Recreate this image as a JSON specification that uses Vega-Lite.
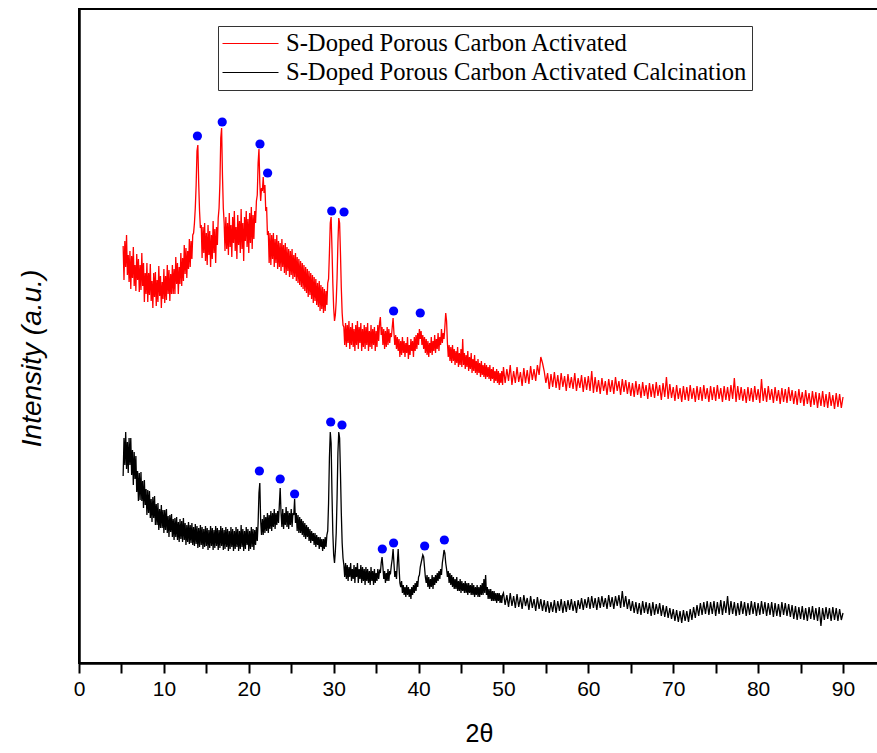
{
"$schema":"https://vega.github.io/schema/vega-lite/v6.json",
"width":800,"height":654,
"autosize":{"type":"none"},
"padding":{"left":79,"top":9,"right":0,"bottom":90},
"background":"#ffffff",
"config":{"view":{"stroke":"#000000","strokeWidth":2}},
"datasets":{
"xrd":[
{"x":5.2,"r":417,"b":187},{"x":5.3,"r":383,"b":225},{"x":5.4,"r":422,"b":198},{"x":5.5,"r":396,"b":231},{"x":5.6,"r":428,"b":194},{"x":5.7,"r":388,"b":221},{"x":5.8,"r":408,"b":190},{"x":5.9,"r":381,"b":225},{"x":6.0,"r":412,"b":198},{"x":6.1,"r":374,"b":225},{"x":6.2,"r":407,"b":188},{"x":6.3,"r":385,"b":213},{"x":6.4,"r":416,"b":178},{"x":6.5,"r":377,"b":211},{"x":6.6,"r":398,"b":184},{"x":6.7,"r":372,"b":207},{"x":6.8,"r":409,"b":171},{"x":6.9,"r":383,"b":192},{"x":7.0,"r":404,"b":162},{"x":7.1,"r":371,"b":190},{"x":7.2,"r":398,"b":163},{"x":7.3,"r":373,"b":191},{"x":7.4,"r":410,"b":162},{"x":7.5,"r":377,"b":182},{"x":7.6,"r":400,"b":155},{"x":7.7,"r":361,"b":183},{"x":7.8,"r":390,"b":158},{"x":7.9,"r":369,"b":174},
{"x":8.0,"r":400,"b":148},{"x":8.1,"r":361,"b":173},{"x":8.2,"r":390,"b":150},{"x":8.3,"r":368,"b":172},{"x":8.4,"r":399,"b":145},{"x":8.5,"r":362,"b":164},{"x":8.6,"r":382,"b":141},{"x":8.7,"r":355,"b":166},{"x":8.8,"r":390,"b":145},{"x":8.9,"r":366,"b":167},{"x":9.0,"r":391,"b":138},{"x":9.1,"r":357,"b":159},{"x":9.2,"r":383,"b":138},{"x":9.3,"r":361,"b":160},{"x":9.4,"r":397,"b":133},{"x":9.5,"r":367,"b":154},{"x":9.6,"r":387,"b":135},{"x":9.7,"r":355,"b":158},{"x":9.8,"r":381,"b":135},{"x":9.9,"r":364,"b":153},
{"x":10.0,"r":394,"b":130},{"x":10.1,"r":360,"b":153},{"x":10.2,"r":387,"b":133},{"x":10.3,"r":363,"b":154},{"x":10.4,"r":398,"b":130},{"x":10.5,"r":369,"b":147},{"x":10.6,"r":393,"b":126},{"x":10.7,"r":362,"b":148},{"x":10.8,"r":389,"b":131},{"x":10.9,"r":369,"b":149},{"x":11.0,"r":398,"b":126},{"x":11.1,"r":369,"b":144},{"x":11.2,"r":394,"b":123},{"x":11.3,"r":369,"b":145},{"x":11.4,"r":406,"b":126},{"x":11.5,"r":379,"b":146},{"x":11.6,"r":400,"b":123},{"x":11.7,"r":369,"b":141},{"x":11.8,"r":396,"b":121},{"x":11.9,"r":379,"b":144},
{"x":12.0,"r":410,"b":124},{"x":12.1,"r":377,"b":142},{"x":12.2,"r":405,"b":121},{"x":12.3,"r":382,"b":145},{"x":12.4,"r":418,"b":123},{"x":12.5,"r":389,"b":140},{"x":12.6,"r":415,"b":118},{"x":12.7,"r":385,"b":138},{"x":12.8,"r":412,"b":121},{"x":12.9,"r":394,"b":141},{"x":13.0,"r":424,"b":119},{"x":13.1,"r":396,"b":138},{"x":13.2,"r":422,"b":120},{"x":13.3,"r":404,"b":140},{"x":13.4,"r":428,"b":118},{"x":13.5,"r":430,"b":136},{"x":13.6,"r":440,"b":117},{"x":13.7,"r":455,"b":139},{"x":13.8,"r":478,"b":119},{"x":13.9,"r":512,"b":137},
{"x":14.0,"r":518,"b":115},{"x":14.1,"r":480,"b":135},{"x":14.2,"r":452,"b":116},{"x":14.3,"r":435,"b":138},{"x":14.4,"r":438,"b":118},{"x":14.5,"r":405,"b":136},{"x":14.6,"r":436,"b":114},{"x":14.7,"r":410,"b":134},{"x":14.8,"r":440,"b":116},{"x":14.9,"r":402,"b":137},{"x":15.0,"r":430,"b":117},{"x":15.1,"r":398,"b":135},{"x":15.2,"r":438,"b":113},{"x":15.3,"r":408,"b":133},{"x":15.4,"r":432,"b":115},{"x":15.5,"r":396,"b":137},{"x":15.6,"r":428,"b":117},{"x":15.7,"r":404,"b":135},{"x":15.8,"r":442,"b":113},{"x":15.9,"r":410,"b":133},
{"x":16.0,"r":434,"b":115},{"x":16.1,"r":400,"b":137},{"x":16.2,"r":436,"b":117},{"x":16.3,"r":418,"b":135},{"x":16.4,"r":445,"b":113},{"x":16.5,"r":455,"b":133},{"x":16.6,"r":480,"b":115},{"x":16.7,"r":525,"b":137},{"x":16.8,"r":535,"b":117},{"x":16.9,"r":488,"b":135},{"x":17.0,"r":455,"b":113},{"x":17.1,"r":440,"b":133},{"x":17.2,"r":412,"b":114},{"x":17.3,"r":446,"b":136},{"x":17.4,"r":414,"b":116},{"x":17.5,"r":440,"b":134},{"x":17.6,"r":408,"b":112},{"x":17.7,"r":450,"b":132},{"x":17.8,"r":416,"b":114},{"x":17.9,"r":438,"b":136},
{"x":18.0,"r":406,"b":116},{"x":18.1,"r":446,"b":134},{"x":18.2,"r":420,"b":112},{"x":18.3,"r":452,"b":132},{"x":18.4,"r":412,"b":114},{"x":18.5,"r":436,"b":136},{"x":18.6,"r":404,"b":116},{"x":18.7,"r":448,"b":134},{"x":18.8,"r":418,"b":112},{"x":18.9,"r":442,"b":132},{"x":19.0,"r":410,"b":114},{"x":19.1,"r":454,"b":138},{"x":19.2,"r":414,"b":116},{"x":19.3,"r":440,"b":134},{"x":19.4,"r":402,"b":112},{"x":19.5,"r":446,"b":132},{"x":19.6,"r":422,"b":114},{"x":19.7,"r":452,"b":136},{"x":19.8,"r":416,"b":118},{"x":19.9,"r":444,"b":134},
{"x":20.0,"r":410,"b":112},{"x":20.1,"r":450,"b":132},{"x":20.2,"r":420,"b":114},{"x":20.3,"r":456,"b":136},{"x":20.4,"r":414,"b":116},{"x":20.5,"r":448,"b":134},{"x":20.6,"r":424,"b":113},{"x":20.7,"r":452,"b":133},{"x":20.8,"r":440,"b":118},{"x":20.9,"r":462,"b":136},{"x":21.0,"r":468,"b":122},{"x":21.1,"r":500,"b":140},{"x":21.2,"r":514,"b":170},{"x":21.3,"r":480,"b":180},{"x":21.4,"r":462,"b":142},{"x":21.5,"r":475,"b":128},{"x":21.6,"r":472,"b":144},{"x":21.7,"r":486,"b":128},{"x":21.8,"r":470,"b":148},{"x":21.9,"r":478,"b":130},
{"x":22.0,"r":452,"b":146},{"x":22.1,"r":456,"b":132},{"x":22.2,"r":428,"b":150},{"x":22.3,"r":432,"b":130},{"x":22.4,"r":400,"b":148},{"x":22.5,"r":430,"b":134},{"x":22.6,"r":398,"b":152},{"x":22.7,"r":428,"b":132},{"x":22.8,"r":404,"b":150},{"x":22.9,"r":430,"b":136},{"x":23.0,"r":396,"b":154},{"x":23.1,"r":424,"b":134},{"x":23.2,"r":400,"b":150},{"x":23.3,"r":428,"b":138},{"x":23.4,"r":394,"b":152},{"x":23.5,"r":422,"b":140},{"x":23.6,"r":396,"b":158},{"x":23.7,"r":420,"b":175},{"x":23.8,"r":392,"b":150},{"x":23.9,"r":424,"b":136},
{"x":24.0,"r":396,"b":154},{"x":24.1,"r":418,"b":134},{"x":24.2,"r":390,"b":150},{"x":24.3,"r":420,"b":138},{"x":24.4,"r":388,"b":156},{"x":24.5,"r":416,"b":136},{"x":24.6,"r":392,"b":152},{"x":24.7,"r":414,"b":134},{"x":24.8,"r":386,"b":150},{"x":24.9,"r":412,"b":138},{"x":25.0,"r":388,"b":154},{"x":25.1,"r":414,"b":136},{"x":25.2,"r":384,"b":150},{"x":25.3,"r":408,"b":148},{"x":25.4,"r":386,"b":164},{"x":25.5,"r":410,"b":140},{"x":25.6,"r":382,"b":150},{"x":25.7,"r":406,"b":132},{"x":25.8,"r":380,"b":148},{"x":25.9,"r":404,"b":130},
{"x":26.0,"r":378,"b":146},{"x":26.1,"r":402,"b":130},{"x":26.2,"r":376,"b":144},{"x":26.3,"r":400,"b":128},{"x":26.4,"r":374,"b":142},{"x":26.5,"r":398,"b":126},{"x":26.6,"r":372,"b":140},{"x":26.7,"r":396,"b":124},{"x":26.8,"r":370,"b":138},{"x":26.9,"r":394,"b":126},{"x":27.0,"r":366,"b":136},{"x":27.1,"r":392,"b":122},{"x":27.2,"r":368,"b":134},{"x":27.3,"r":390,"b":120},{"x":27.4,"r":364,"b":132},{"x":27.5,"r":388,"b":122},{"x":27.6,"r":360,"b":130},{"x":27.7,"r":386,"b":118},{"x":27.8,"r":362,"b":130},{"x":27.9,"r":384,"b":116},
{"x":28.0,"r":358,"b":128},{"x":28.1,"r":380,"b":118},{"x":28.2,"r":356,"b":126},{"x":28.3,"r":382,"b":114},{"x":28.4,"r":352,"b":126},{"x":28.5,"r":378,"b":116},{"x":28.6,"r":354,"b":124},{"x":28.7,"r":376,"b":112},{"x":28.8,"r":350,"b":124},{"x":28.9,"r":374,"b":114},{"x":29.0,"r":352,"b":126},{"x":29.1,"r":372,"b":116},{"x":29.2,"r":358,"b":128},{"x":29.3,"r":380,"b":132},{"x":29.4,"r":384,"b":160},{"x":29.5,"r":410,"b":205},{"x":29.6,"r":440,"b":231},{"x":29.7,"r":446,"b":220},{"x":29.8,"r":415,"b":170},{"x":29.9,"r":380,"b":130},
{"x":30.0,"r":355,"b":108},{"x":30.1,"r":342,"b":100},{"x":30.2,"r":348,"b":112},{"x":30.3,"r":362,"b":130},{"x":30.4,"r":385,"b":165},{"x":30.5,"r":420,"b":210},{"x":30.6,"r":445,"b":231},{"x":30.7,"r":440,"b":225},{"x":30.8,"r":410,"b":190},{"x":30.9,"r":375,"b":150},{"x":31.0,"r":350,"b":120},{"x":31.1,"r":338,"b":105},{"x":31.2,"r":336,"b":98},{"x":31.3,"r":318,"b":86},{"x":31.4,"r":340,"b":100},{"x":31.5,"r":316,"b":84},{"x":31.6,"r":338,"b":98},{"x":31.7,"r":320,"b":82},{"x":31.8,"r":342,"b":96},{"x":31.9,"r":314,"b":86},
{"x":32.0,"r":336,"b":100},{"x":32.1,"r":318,"b":82},{"x":32.2,"r":340,"b":94},{"x":32.3,"r":316,"b":84},{"x":32.4,"r":334,"b":98},{"x":32.5,"r":312,"b":80},{"x":32.6,"r":338,"b":96},{"x":32.7,"r":318,"b":86},{"x":32.8,"r":342,"b":100},{"x":32.9,"r":314,"b":80},{"x":33.0,"r":336,"b":94},{"x":33.1,"r":320,"b":84},{"x":33.2,"r":340,"b":98},{"x":33.3,"r":312,"b":80},{"x":33.4,"r":334,"b":96},{"x":33.5,"r":316,"b":82},{"x":33.6,"r":338,"b":94},{"x":33.7,"r":314,"b":78},{"x":33.8,"r":336,"b":96},{"x":33.9,"r":318,"b":82},
{"x":34.0,"r":340,"b":94},{"x":34.1,"r":312,"b":80},{"x":34.2,"r":332,"b":92},{"x":34.3,"r":316,"b":78},{"x":34.4,"r":338,"b":96},{"x":34.5,"r":314,"b":82},{"x":34.6,"r":334,"b":92},{"x":34.7,"r":318,"b":78},{"x":34.8,"r":336,"b":94},{"x":34.9,"r":312,"b":80},{"x":35.0,"r":332,"b":90},{"x":35.1,"r":316,"b":82},{"x":35.2,"r":338,"b":94},{"x":35.3,"r":322,"b":84},{"x":35.4,"r":340,"b":92},{"x":35.5,"r":346,"b":90},{"x":35.6,"r":328,"b":100},{"x":35.7,"r":336,"b":106},{"x":35.8,"r":318,"b":96},{"x":35.9,"r":334,"b":84},
{"x":36.0,"r":314,"b":92},{"x":36.1,"r":332,"b":80},{"x":36.2,"r":316,"b":90},{"x":36.3,"r":336,"b":82},{"x":36.4,"r":318,"b":94},{"x":36.5,"r":334,"b":82},{"x":36.6,"r":320,"b":92},{"x":36.7,"r":330,"b":90},{"x":36.8,"r":326,"b":98},{"x":36.9,"r":336,"b":104},{"x":37.0,"r":345,"b":114},{"x":37.1,"r":330,"b":100},{"x":37.2,"r":318,"b":86},{"x":37.3,"r":328,"b":92},{"x":37.4,"r":314,"b":84},{"x":37.5,"r":326,"b":100},{"x":37.6,"r":312,"b":114},{"x":37.7,"r":324,"b":96},{"x":37.8,"r":306,"b":80},{"x":37.9,"r":322,"b":76},
{"x":38.0,"r":308,"b":82},{"x":38.1,"r":326,"b":70},{"x":38.2,"r":310,"b":78},{"x":38.3,"r":322,"b":68},{"x":38.4,"r":306,"b":76},{"x":38.5,"r":320,"b":66},{"x":38.6,"r":310,"b":78},{"x":38.7,"r":326,"b":68},{"x":38.8,"r":304,"b":76},{"x":38.9,"r":318,"b":66},{"x":39.0,"r":308,"b":74},{"x":39.1,"r":324,"b":64},{"x":39.2,"r":312,"b":76},{"x":39.3,"r":322,"b":68},{"x":39.4,"r":306,"b":78},{"x":39.5,"r":326,"b":70},{"x":39.6,"r":312,"b":80},{"x":39.7,"r":328,"b":72},{"x":39.8,"r":314,"b":82},{"x":39.9,"r":330,"b":76},
{"x":40.0,"r":318,"b":86},{"x":40.1,"r":334,"b":88},{"x":40.2,"r":324,"b":96},{"x":40.3,"r":332,"b":100},{"x":40.4,"r":318,"b":104},{"x":40.5,"r":328,"b":108},{"x":40.6,"r":314,"b":106},{"x":40.7,"r":326,"b":96},{"x":40.8,"r":310,"b":86},{"x":40.9,"r":324,"b":80},{"x":41.0,"r":308,"b":88},{"x":41.1,"r":322,"b":76},{"x":41.2,"r":306,"b":86},{"x":41.3,"r":320,"b":74},{"x":41.4,"r":310,"b":84},{"x":41.5,"r":326,"b":76},{"x":41.6,"r":308,"b":88},{"x":41.7,"r":322,"b":74},{"x":41.8,"r":312,"b":86},{"x":41.9,"r":328,"b":78},
{"x":42.0,"r":310,"b":88},{"x":42.1,"r":324,"b":80},{"x":42.2,"r":314,"b":90},{"x":42.3,"r":330,"b":82},{"x":42.4,"r":312,"b":92},{"x":42.5,"r":326,"b":84},{"x":42.6,"r":318,"b":94},{"x":42.7,"r":334,"b":88},{"x":42.8,"r":320,"b":100},{"x":42.9,"r":330,"b":106},{"x":43.0,"r":324,"b":113},{"x":43.1,"r":336,"b":110},{"x":43.2,"r":350,"b":100},{"x":43.3,"r":342,"b":94},{"x":43.4,"r":320,"b":86},{"x":43.5,"r":306,"b":92},{"x":43.6,"r":318,"b":80},{"x":43.7,"r":302,"b":90},{"x":43.8,"r":316,"b":78},{"x":43.9,"r":300,"b":88},
{"x":44.0,"r":318,"b":76},{"x":44.1,"r":302,"b":86},{"x":44.2,"r":314,"b":74},{"x":44.3,"r":298,"b":84},{"x":44.4,"r":312,"b":74},{"x":44.5,"r":300,"b":86},{"x":44.6,"r":316,"b":72},{"x":44.7,"r":296,"b":82},{"x":44.8,"r":310,"b":72},{"x":44.9,"r":298,"b":84},{"x":45.0,"r":314,"b":70},{"x":45.1,"r":296,"b":82},{"x":45.2,"r":324,"b":72},{"x":45.3,"r":298,"b":80},{"x":45.4,"r":310,"b":70},{"x":45.5,"r":294,"b":82},{"x":45.6,"r":308,"b":70},{"x":45.7,"r":296,"b":80},{"x":45.8,"r":312,"b":68},{"x":45.9,"r":292,"b":80},
{"x":46.0,"r":306,"b":70},{"x":46.1,"r":294,"b":78},{"x":46.2,"r":310,"b":68},{"x":46.3,"r":290,"b":80},{"x":46.4,"r":304,"b":68},{"x":46.5,"r":292,"b":78},{"x":46.6,"r":308,"b":66},{"x":46.7,"r":290,"b":76},{"x":46.8,"r":302,"b":68},{"x":46.9,"r":288,"b":78},{"x":47.0,"r":304,"b":66},{"x":47.1,"r":290,"b":76},{"x":47.2,"r":300,"b":66},{"x":47.3,"r":286,"b":78},{"x":47.4,"r":302,"b":68},{"x":47.5,"r":288,"b":80},{"x":47.6,"r":298,"b":68},{"x":47.7,"r":286,"b":84},{"x":47.8,"r":300,"b":70},{"x":47.9,"r":284,"b":88},
{"x":48.0,"r":298,"b":68},{"x":48.1,"r":286,"b":76},{"x":48.2,"r":296,"b":64},{"x":48.3,"r":284,"b":74},{"x":48.4,"r":298,"b":64},{"x":48.5,"r":282,"b":74},{"x":48.6,"r":294,"b":62},{"x":48.7,"r":284,"b":72},{"x":48.8,"r":296,"b":62},{"x":48.9,"r":280,"b":72},{"x":49.0,"r":292,"b":62},{"x":49.1,"r":282,"b":70},{"x":49.2,"r":294,"b":60},{"x":49.3,"r":280,"b":70},{"x":49.4,"r":292,"b":62},{"x":49.5,"r":278,"b":70},{"x":49.6,"r":290,"b":60},{"x":49.7,"r":280,"b":68},{"x":49.8,"r":292,"b":60},{"x":49.9,"r":278,"b":68},
{"x":50.0,"r":296,"b":70},{"x":50.2,"r":280,"b":58},{"x":50.4,"r":294,"b":68},{"x":50.6,"r":282,"b":56},{"x":50.8,"r":298,"b":70},{"x":51.0,"r":278,"b":57},{"x":51.2,"r":292,"b":67},{"x":51.4,"r":280,"b":55},{"x":51.6,"r":296,"b":69},{"x":51.8,"r":281,"b":56},{"x":52.0,"r":291,"b":66},{"x":52.2,"r":277,"b":54},{"x":52.4,"r":295,"b":68},{"x":52.6,"r":280,"b":57},{"x":52.8,"r":293,"b":65},{"x":53.0,"r":279,"b":53},{"x":53.2,"r":297,"b":67},{"x":53.4,"r":283,"b":55},{"x":53.6,"r":294,"b":64},{"x":53.8,"r":282,"b":52},
{"x":54.0,"r":298,"b":66},{"x":54.2,"r":288,"b":54},{"x":54.4,"r":306,"b":64},{"x":54.6,"r":300,"b":52},{"x":54.8,"r":292,"b":63},{"x":55.0,"r":280,"b":51},{"x":55.2,"r":290,"b":62},{"x":55.4,"r":274,"b":50},{"x":55.6,"r":289,"b":61},{"x":55.8,"r":276,"b":51},{"x":56.0,"r":291,"b":63},{"x":56.2,"r":275,"b":50},{"x":56.4,"r":288,"b":62},{"x":56.6,"r":273,"b":52},{"x":56.8,"r":290,"b":64},{"x":57.0,"r":276,"b":50},{"x":57.2,"r":287,"b":62},{"x":57.4,"r":272,"b":51},{"x":57.6,"r":289,"b":63},{"x":57.8,"r":275,"b":53},
{"x":58.0,"r":286,"b":64},{"x":58.2,"r":274,"b":52},{"x":58.4,"r":290,"b":62},{"x":58.6,"r":272,"b":50},{"x":58.8,"r":285,"b":63},{"x":59.0,"r":275,"b":54},{"x":59.2,"r":288,"b":65},{"x":59.4,"r":271,"b":53},{"x":59.6,"r":286,"b":64},{"x":59.8,"r":273,"b":55},{"x":60.0,"r":287,"b":66},{"x":60.2,"r":272,"b":54},{"x":60.4,"r":292,"b":67},{"x":60.6,"r":270,"b":55},{"x":60.8,"r":286,"b":65},{"x":61.0,"r":271,"b":53},{"x":61.2,"r":283,"b":66},{"x":61.4,"r":269,"b":55},{"x":61.6,"r":285,"b":67},{"x":61.8,"r":272,"b":56},
{"x":62.0,"r":282,"b":65},{"x":62.2,"r":268,"b":54},{"x":62.4,"r":284,"b":68},{"x":62.6,"r":271,"b":56},{"x":62.8,"r":283,"b":66},{"x":63.0,"r":269,"b":54},{"x":63.2,"r":286,"b":67},{"x":63.4,"r":272,"b":57},{"x":63.6,"r":282,"b":68},{"x":63.8,"r":268,"b":55},{"x":64.0,"r":284,"b":72},{"x":64.2,"r":271,"b":56},{"x":64.4,"r":283,"b":67},{"x":64.6,"r":269,"b":54},{"x":64.8,"r":281,"b":64},{"x":65.0,"r":267,"b":52},{"x":65.2,"r":280,"b":62},{"x":65.4,"r":266,"b":50},{"x":65.6,"r":282,"b":61},{"x":65.8,"r":268,"b":49},
{"x":66.0,"r":279,"b":60},{"x":66.2,"r":265,"b":48},{"x":66.4,"r":281,"b":62},{"x":66.6,"r":267,"b":50},{"x":66.8,"r":278,"b":61},{"x":67.0,"r":264,"b":49},{"x":67.2,"r":280,"b":60},{"x":67.4,"r":266,"b":47},{"x":67.6,"r":279,"b":61},{"x":67.8,"r":265,"b":48},{"x":68.0,"r":281,"b":59},{"x":68.2,"r":267,"b":49},{"x":68.4,"r":278,"b":60},{"x":68.6,"r":263,"b":47},{"x":68.8,"r":280,"b":58},{"x":69.0,"r":266,"b":46},{"x":69.2,"r":286,"b":57},{"x":69.4,"r":264,"b":45},{"x":69.6,"r":279,"b":55},{"x":69.8,"r":265,"b":44},
{"x":70.0,"r":276,"b":54},{"x":70.2,"r":262,"b":42},{"x":70.4,"r":278,"b":53},{"x":70.6,"r":264,"b":41},{"x":70.8,"r":275,"b":52},{"x":71.0,"r":261,"b":40},{"x":71.2,"r":277,"b":53},{"x":71.4,"r":263,"b":42},{"x":71.6,"r":276,"b":52},{"x":71.8,"r":262,"b":41},{"x":72.0,"r":278,"b":54},{"x":72.2,"r":264,"b":43},{"x":72.4,"r":275,"b":56},{"x":72.6,"r":261,"b":45},{"x":72.8,"r":277,"b":58},{"x":73.0,"r":263,"b":47},{"x":73.2,"r":276,"b":60},{"x":73.4,"r":262,"b":48},{"x":73.6,"r":278,"b":61},{"x":73.8,"r":264,"b":49},
{"x":74.0,"r":275,"b":62},{"x":74.2,"r":261,"b":48},{"x":74.4,"r":277,"b":61},{"x":74.6,"r":263,"b":49},{"x":74.8,"r":276,"b":62},{"x":75.0,"r":262,"b":47},{"x":75.2,"r":278,"b":61},{"x":75.4,"r":264,"b":49},{"x":75.6,"r":275,"b":63},{"x":75.8,"r":261,"b":48},{"x":76.0,"r":277,"b":62},{"x":76.2,"r":263,"b":50},{"x":76.4,"r":276,"b":67},{"x":76.6,"r":262,"b":48},{"x":76.8,"r":278,"b":62},{"x":77.0,"r":264,"b":49},{"x":77.2,"r":285,"b":61},{"x":77.4,"r":261,"b":47},{"x":77.6,"r":277,"b":60},{"x":77.8,"r":263,"b":48},
{"x":78.0,"r":276,"b":62},{"x":78.2,"r":262,"b":49},{"x":78.4,"r":274,"b":61},{"x":78.6,"r":260,"b":47},{"x":78.8,"r":276,"b":60},{"x":79.0,"r":262,"b":48},{"x":79.2,"r":275,"b":62},{"x":79.4,"r":261,"b":49},{"x":79.6,"r":277,"b":61},{"x":79.8,"r":263,"b":47},{"x":80.0,"r":274,"b":60},{"x":80.2,"r":260,"b":48},{"x":80.4,"r":284,"b":62},{"x":80.6,"r":262,"b":49},{"x":80.8,"r":275,"b":61},{"x":81.0,"r":261,"b":47},{"x":81.2,"r":277,"b":60},{"x":81.4,"r":263,"b":48},{"x":81.6,"r":274,"b":61},{"x":81.8,"r":260,"b":46},
{"x":82.0,"r":276,"b":60},{"x":82.2,"r":262,"b":47},{"x":82.4,"r":273,"b":59},{"x":82.6,"r":259,"b":46},{"x":82.8,"r":275,"b":61},{"x":83.0,"r":261,"b":48},{"x":83.2,"r":274,"b":60},{"x":83.4,"r":260,"b":47},{"x":83.6,"r":276,"b":59},{"x":83.8,"r":262,"b":46},{"x":84.0,"r":273,"b":58},{"x":84.2,"r":259,"b":44},{"x":84.4,"r":272,"b":57},{"x":84.6,"r":258,"b":43},{"x":84.8,"r":274,"b":56},{"x":85.0,"r":260,"b":44},{"x":85.2,"r":271,"b":57},{"x":85.4,"r":257,"b":43},{"x":85.6,"r":273,"b":55},{"x":85.8,"r":259,"b":42},
{"x":86.0,"r":270,"b":56},{"x":86.2,"r":256,"b":44},{"x":86.4,"r":272,"b":57},{"x":86.6,"r":258,"b":43},{"x":86.8,"r":271,"b":55},{"x":87.0,"r":255,"b":42},{"x":87.2,"r":270,"b":56},{"x":87.4,"r":257,"b":37},{"x":87.6,"r":272,"b":55},{"x":87.8,"r":256,"b":43},{"x":88.0,"r":269,"b":56},{"x":88.2,"r":255,"b":44},{"x":88.4,"r":271,"b":55},{"x":88.6,"r":257,"b":42},{"x":88.8,"r":268,"b":56},{"x":89.0,"r":254,"b":43},{"x":89.2,"r":270,"b":55},{"x":89.4,"r":256,"b":42},{"x":89.6,"r":269,"b":54},{"x":89.8,"r":255,"b":43},{"x":90.0,"r":266,"b":50}
],
"dots":[
{"x":13.95,"I":527},{"x":16.87,"I":541},{"x":21.32,"I":519},{"x":22.22,"I":490},{"x":29.77,"I":452},{"x":31.22,"I":451},{"x":37.06,"I":352},{"x":40.2,"I":350},
{"x":21.25,"I":192},{"x":23.7,"I":184},{"x":25.4,"I":169},{"x":29.65,"I":241},{"x":30.98,"I":238},{"x":35.73,"I":114},{"x":37.06,"I":120},{"x":40.72,"I":117},{"x":43.04,"I":123}
]
},
"encoding":{
"x":{"field":"x","type":"quantitative","scale":{"domain":[0,94.24],"nice":false,"zero":false},
"axis":{"values":[0,5,10,15,20,25,30,35,40,45,50,55,60,65,70,75,80,85,90],"labelExpr":"datum.value % 10 === 0 ? datum.label : ''","grid":false,"domainColor":"#000","domainWidth":2.5,"tickColor":"#000","tickWidth":2,"tickSize":10,"labelFont":"Liberation Sans","labelFontSize":21,"labelColor":"#000","labelPadding":5,"labelFlush":false,"labelOverlap":false,"title":"2θ","titleFont":"Liberation Sans","titleFontSize":25,"titleFontWeight":"normal","titleColor":"#000","titlePadding":22}},
"y":{"field":"I","type":"quantitative","scale":{"domain":[0,654],"nice":false,"zero":false},
"axis":{"grid":false,"ticks":false,"labels":false,"domainColor":"#000","domainWidth":2.5,"title":"Intensity (a.u.)","titleFont":"Liberation Sans","titleFontSize":28,"titleFontStyle":"italic","titleFontWeight":"normal","titleColor":"#000","titleAngle":270,"titleAlign":"center","titleBaseline":"middle","titleX":-47,"titleY":349}}
},
"layer":[
{"data":{"name":"xrd"},
"transform":[{"fold":["r","b"],"as":["series","I"]}],
"mark":{"type":"line","strokeWidth":1.3,"clip":true},
"encoding":{
"color":{"field":"series","type":"nominal","scale":{"domain":["r","b"],"range":["#ff0000","#000000"]},
"legend":{"orient":"none","legendX":139,"legendY":17,"title":null,"symbolType":"stroke","symbolSize":3136,"symbolStrokeWidth":1,"clipHeight":27,"rowPadding":2,"padding":4,"labelFont":"Liberation Serif","labelFontSize":24.6,"labelColor":"#000","labelLimit":800,"labelOffset":7,"strokeColor":"#333","fillColor":"#fff",
"labelExpr":"datum.value === 'r' ? 'S-Doped Porous Carbon Activated' : 'S-Doped Porous Carbon Activated Calcination'"}}
}},
{"data":{"name":"dots"},
"mark":{"type":"point","filled":true,"opacity":1,"color":"#0000ff","size":85}}
]
}
